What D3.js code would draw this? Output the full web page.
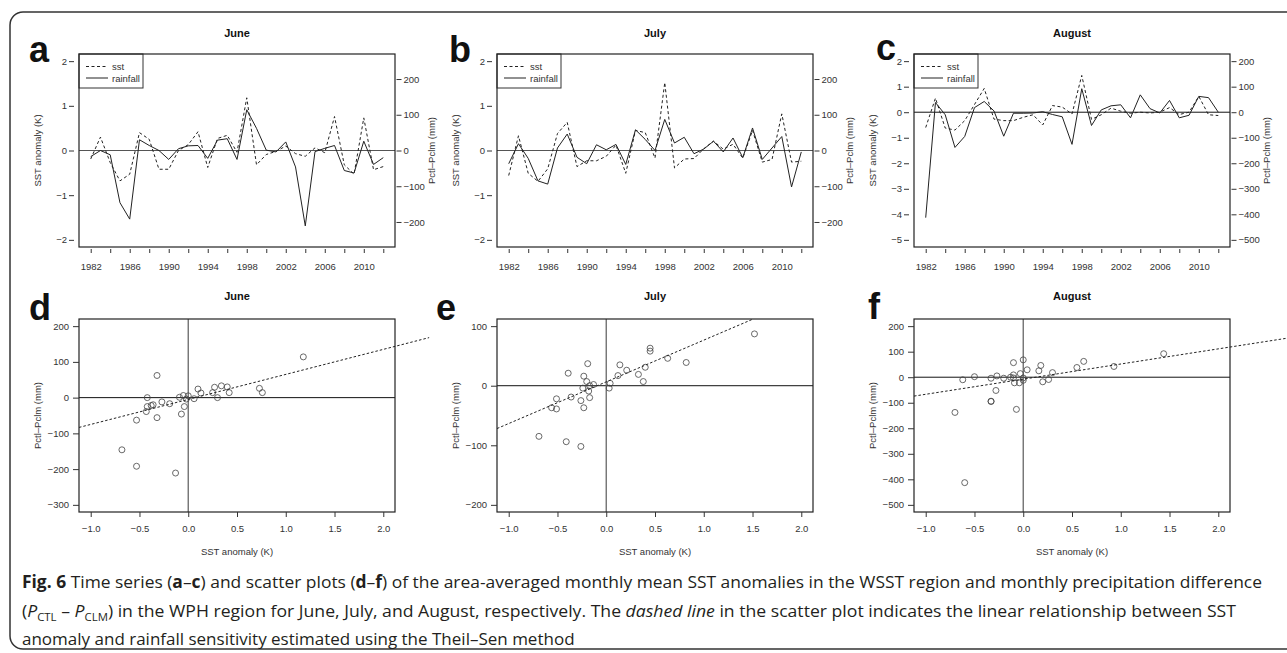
<!DOCTYPE html>
<html lang="en">
<head>
<meta charset="UTF-8">
<title>Fig. 6 SST anomaly and rainfall</title>
<script src="https://d3js.org/d3.v7.min.js"></script>
<style>
  body { margin: 0; background: #fff; }
  svg text { font-family: "Liberation Sans", Arial, sans-serif; }
</style>
</head>
<body>
<script>
// ---- data ----
const years = [1982, 1983, 1984, 1985, 1986, 1987, 1988, 1989, 1990, 1991, 1992,
               1993, 1994, 1995, 1996, 1997, 1998, 1999, 2000, 2001, 2002, 2003,
               2004, 2005, 2006, 2007, 2008, 2009, 2010, 2011, 2012];

const juneSst  = [-0.19, 0.30, -0.27, -0.68, -0.53, 0.40, 0.25, -0.42, -0.42, 0.00, 0.13,
                  0.42, -0.38, 0.27, 0.34, -0.04, 1.18, -0.32, -0.09, -0.02, 0.10, -0.07,
                  -0.13, 0.06, -0.05, 0.76, -0.32, -0.53, 0.73, -0.43, -0.36];
const juneRain = [-17, 0, -12, -146, -192, 30, 14, 0, -25, 5, 13,
                  14, -22, 29, 33, -25, 114, 62, 1, -4, 24, -46,
                  -211, -3, 6, 14, -56, -63, 26, -39, -20];

const julySst  = [-0.56, 0.33, -0.51, -0.69, -0.41, 0.38, 0.63, -0.36, -0.23, -0.23, -0.13,
                  0.12, -0.51, 0.45, 0.40, -0.17, 1.52, -0.39, -0.19, -0.18, 0.04, 0.21,
                  0.03, 0.14, -0.17, 0.45, -0.26, -0.20, 0.82, -0.26, -0.24];
const julyRain = [-37, 19, -22, -85, -94, 7, 46, -19, -37, 16, 2,
                  17, -39, 58, 31, 0, 87, 21, 37, -9, 4, 26,
                  -4, 35, -20, 63, -25, 7, 39, -102, -4];

const augSst   = [-0.60, 0.55, -0.62, -0.70, -0.33, 0.30, 0.93, -0.27, -0.33, -0.33, -0.20,
                  -0.10, -0.50, 0.26, 0.20, -0.07, 1.44, -0.28, -0.10, 0.16, 0.04, -0.04,
                  0.00, -0.03, 0.00, 0.18, -0.09, 0.00, 0.62, -0.10, -0.13];
const augRain  = [-413, 38, -10, -138, -95, 18, 42, 5, -94, -4, -4,
                  -3, 2, -9, -18, -126, 92, -52, 9, 25, 29, -22,
                  68, 14, -3, 46, -22, -12, 62, 57, 0];

const months = ["June", "July", "August"];
const tsLetters = ["a", "b", "c"];
const scLetters = ["d", "e", "f"];

// Theil–Sen fit (slope mm/K, intercept mm) and how far right the drawn line reaches (K)
const tsSlope     = [70, 70, 59.3];
const tsIntercept = [-5, 6.5, -7.6];
const tsLineEnd   = [2.47, 1.50, 2.69];

const sstLims  = [[-2, 2], [-2, 2], [-5, 2]];
const rainLims = [[-250, 250], [-250, 250], [-500, 200]];
const sstTicks  = [[-2, -1, 0, 1, 2], [-2, -1, 0, 1, 2], [-5, -4, -3, -2, -1, 0, 1, 2]];
const rainTicks = [[-200, -100, 0, 100, 200], [-200, -100, 0, 100, 200],
                   [-500, -400, -300, -200, -100, 0, 100, 200]];
const scYLims  = [[-300, 200], [-200, 100], [-500, 200]];
const scYTicks = [[-300, -200, -100, 0, 100, 200], [-200, -100, 0, 100],
                  [-500, -400, -300, -200, -100, 0, 100, 200]];
const scXTicks = [-1.0, -0.5, 0.0, 0.5, 1.0, 1.5, 2.0];

const sstSeries  = [juneSst, julySst, augSst];
const rainSeries = [juneRain, julyRain, augRain];

// ---- layout ----
const W = 1287, H = 653;
const cols = [79, 497, 914], boxW = 316;
const tsTop = 54, tsBot = 247, scTop = 319, scBot = 512;
const ink = "#222", grey = "#333";

// R style 4% padding of the axis limits
const ext = ([a, b]) => [a - 0.04 * (b - a), b + 0.04 * (b - a)];

const svg = d3.select("body").append("svg")
    .attr("width", W)
    .attr("height", H);

svg.append("rect")
    .attr("x", 10).attr("y", 12)
    .attr("width", 1330).attr("height", 637)
    .attr("rx", 13)
    .attr("fill", "none")
    .attr("stroke", "#333")
    .attr("stroke-width", 1.5);

function styleAxis(g) {
    g.select(".domain").remove();
    g.attr("font-family", null).attr("font-size", null);
    g.selectAll(".tick line").attr("stroke", grey);
    g.selectAll(".tick text").attr("fill", grey).style("font-size", "9.5px");
}

function label(x, y, txt, opts = {}) {
    const t = svg.append("text")
        .attr("x", x).attr("y", y)
        .attr("text-anchor", opts.anchor || "middle")
        .style("font-size", (opts.size || 9.5) + "px")
        .style("font-weight", opts.bold ? "bold" : "normal")
        .attr("fill", opts.fill || grey)
        .text(txt);
    if (opts.rotate) t.attr("transform", `rotate(-90 ${x} ${y})`);
    return t;
}

// ---- time series panels a–c ----
const yearTicks = years.filter((d, i) => i % 2 === 0);

months.forEach((m, k) => {
    const x0 = cols[k], x1 = x0 + boxW;
    const x = d3.scaleLinear().domain(ext([years[0], years[years.length - 1]])).range([x0, x1]);
    const y = d3.scaleLinear().domain(ext(sstLims[k])).range([tsBot, tsTop]);
    const yr = d3.scaleLinear().domain(ext(rainLims[k])).range([tsBot, tsTop]);

    svg.append("line")
        .attr("x1", x0).attr("x2", x1)
        .attr("y1", y(0)).attr("y2", y(0))
        .attr("stroke", k === 2 ? "#111" : "#555");

    svg.append("path")
        .datum(sstSeries[k])
        .attr("fill", "none")
        .attr("stroke", ink)
        .attr("stroke-dasharray", "3,2.5")
        .attr("d", d3.line().x((d, i) => x(years[i])).y(d => y(d)));

    svg.append("path")
        .datum(rainSeries[k])
        .attr("fill", "none")
        .attr("stroke", ink)
        .attr("d", d3.line().x((d, i) => x(years[i])).y(d => yr(d)));

    // legend
    const lg = svg.append("g").attr("transform", `translate(${x0},${tsTop})`);
    lg.append("rect").attr("width", 64).attr("height", 34)
        .attr("fill", "#fff").attr("stroke", grey);
    lg.append("line").attr("x1", 7).attr("x2", 29).attr("y1", 12.5).attr("y2", 12.5)
        .attr("stroke", ink).attr("stroke-dasharray", "3,2.5");
    lg.append("line").attr("x1", 7).attr("x2", 29).attr("y1", 24).attr("y2", 24)
        .attr("stroke", ink);
    lg.append("text").attr("x", 33).attr("y", 16).attr("fill", grey)
        .style("font-size", "9.5px").text("sst");
    lg.append("text").attr("x", 33).attr("y", 27.5).attr("fill", grey)
        .style("font-size", "9.5px").text("rainfall");

    svg.append("rect")
        .attr("x", x0).attr("y", tsTop)
        .attr("width", boxW).attr("height", tsBot - tsTop)
        .attr("fill", "none").attr("stroke", ink).attr("stroke-width", 1.2);

    svg.append("g")
        .attr("transform", `translate(${x0 - 5},0)`)
        .call(d3.axisLeft(y).tickValues(sstTicks[k]).tickSize(5).tickPadding(2).tickFormat(d3.format("d")))
        .call(styleAxis);
    svg.append("g")
        .attr("transform", `translate(${x1 + 1.5},0)`)
        .call(d3.axisRight(yr).tickValues(rainTicks[k]).tickSize(5).tickPadding(2).tickFormat(d3.format("d")))
        .call(styleAxis);
    svg.append("g")
        .attr("transform", `translate(0,${tsBot + 2})`)
        .call(d3.axisBottom(x).tickValues(yearTicks).tickSize(4).tickPadding(10)
              .tickFormat(d => (d - years[0]) % 4 === 0 ? d : ""))
        .call(styleAxis);

    label((x0 + x1) / 2, tsTop - 17, m, {bold: true, size: 11, fill: "#111"});
    label(x0 - 38, (tsTop + tsBot) / 2, "SST anomaly (K)", {rotate: true});
    label(x1 + 40, (tsTop + tsBot) / 2, "Pctl\u2013Pclm (mm)", {rotate: true});
});

// ---- scatter panels d–f ----
months.forEach((m, k) => {
    const x0 = cols[k], x1 = x0 + boxW;
    const x = d3.scaleLinear().domain(ext([-1, 2])).range([x0, x1]);
    const y = d3.scaleLinear().domain(ext(scYLims[k])).range([scBot, scTop]);

    svg.append("line")
        .attr("x1", x0).attr("x2", x1).attr("y1", y(0)).attr("y2", y(0))
        .attr("stroke", "#111");
    svg.append("line")
        .attr("x1", x(0)).attr("x2", x(0)).attr("y1", scTop).attr("y2", scBot)
        .attr("stroke", "#666").attr("stroke-width", 1.3);

    svg.selectAll(null)
        .data(sstSeries[k].map((s, i) => [s, rainSeries[k][i]]))
        .join("circle")
        .attr("cx", d => x(d[0]))
        .attr("cy", d => y(d[1]))
        .attr("r", 3)
        .attr("fill", "none")
        .attr("stroke", "#444")
        .attr("stroke-width", 0.8);

    const xa = x.domain()[0], xb = tsLineEnd[k];
    svg.append("line")
        .attr("x1", x(xa)).attr("y1", y(tsIntercept[k] + tsSlope[k] * xa))
        .attr("x2", x(xb)).attr("y2", y(tsIntercept[k] + tsSlope[k] * xb))
        .attr("stroke", ink).attr("stroke-dasharray", "2.5,2");

    svg.append("rect")
        .attr("x", x0).attr("y", scTop)
        .attr("width", boxW).attr("height", scBot - scTop)
        .attr("fill", "none").attr("stroke", ink).attr("stroke-width", 1.2);

    svg.append("g")
        .attr("transform", `translate(${x0},0)`)
        .call(d3.axisLeft(y).tickValues(scYTicks[k]).tickSize(6).tickPadding(4).tickFormat(d3.format("d")))
        .call(styleAxis);
    svg.append("g")
        .attr("transform", `translate(0,${scBot})`)
        .call(d3.axisBottom(x).tickValues(scXTicks).tickSize(5).tickPadding(8).tickFormat(d3.format(".1f")))
        .call(styleAxis);

    label((x0 + x1) / 2, scTop - 19, m, {bold: true, size: 11, fill: "#111"});
    label(x0 - 38, (scTop + scBot) / 2, "Pctl\u2013Pclm (mm)", {rotate: true});
    label((x0 + x1) / 2, scBot + 43, "SST anomaly (K)");
});

// ---- panel letters ----
const letterPos = [[29, 62], [449, 62], [876, 60], [29, 320], [436, 320], [868, 319]];
tsLetters.concat(scLetters).forEach((l, i) => {
    svg.append("text")
        .attr("x", letterPos[i][0]).attr("y", letterPos[i][1])
        .style("font-size", "36px").style("font-weight", "bold")
        .attr("fill", "#111")
        .text(l);
});

// ---- caption ----
const cap = svg.append("g")
    .style("font-family", "'Open Sans', 'Noto Sans', sans-serif")
    .style("font-size", "17px")
    .attr("fill", "#231f20");

function capLine(y, parts, len) {
    const t = cap.append("text").attr("x", 22).attr("y", y)
        .style("font-family", "'Open Sans', 'Noto Sans', sans-serif");
    if (len) t.attr("textLength", len).attr("lengthAdjust", "spacingAndGlyphs");
    parts.forEach(p => {
        const s = t.append("tspan").text(p.t);
        if (p.b) s.style("font-weight", "bold");
        if (p.i) s.style("font-style", "italic");
        if (p.sub) s.style("font-size", "11px").attr("dy", 4);
        if (p.up) s.attr("dy", -4);
    });
}

capLine(588, [
    {t: "Fig. 6", b: true}, {t: " Time series ("}, {t: "a", b: true}, {t: "\u2013"}, {t: "c", b: true},
    {t: ") and scatter plots ("}, {t: "d", b: true}, {t: "\u2013"}, {t: "f", b: true},
    {t: ") of the area-averaged monthly mean SST anomalies in the WSST region and monthly precipitation difference"}
], 1240);
capLine(617, [
    {t: "("}, {t: "P", i: true}, {t: "CTL", sub: true}, {t: " \u2013 ", up: true}, {t: "P", i: true},
    {t: "CLM", sub: true}, {t: ") in the WPH region for June, July, and August, respectively. The ", up: true},
    {t: "dashed line", i: true},
    {t: " in the scatter plot indicates the linear relationship between SST"}
], 1214);
capLine(645, [{t: "anomaly and rainfall sensitivity estimated using the Theil\u2013Sen method"}], 0);
</script>
</body>
</html>
